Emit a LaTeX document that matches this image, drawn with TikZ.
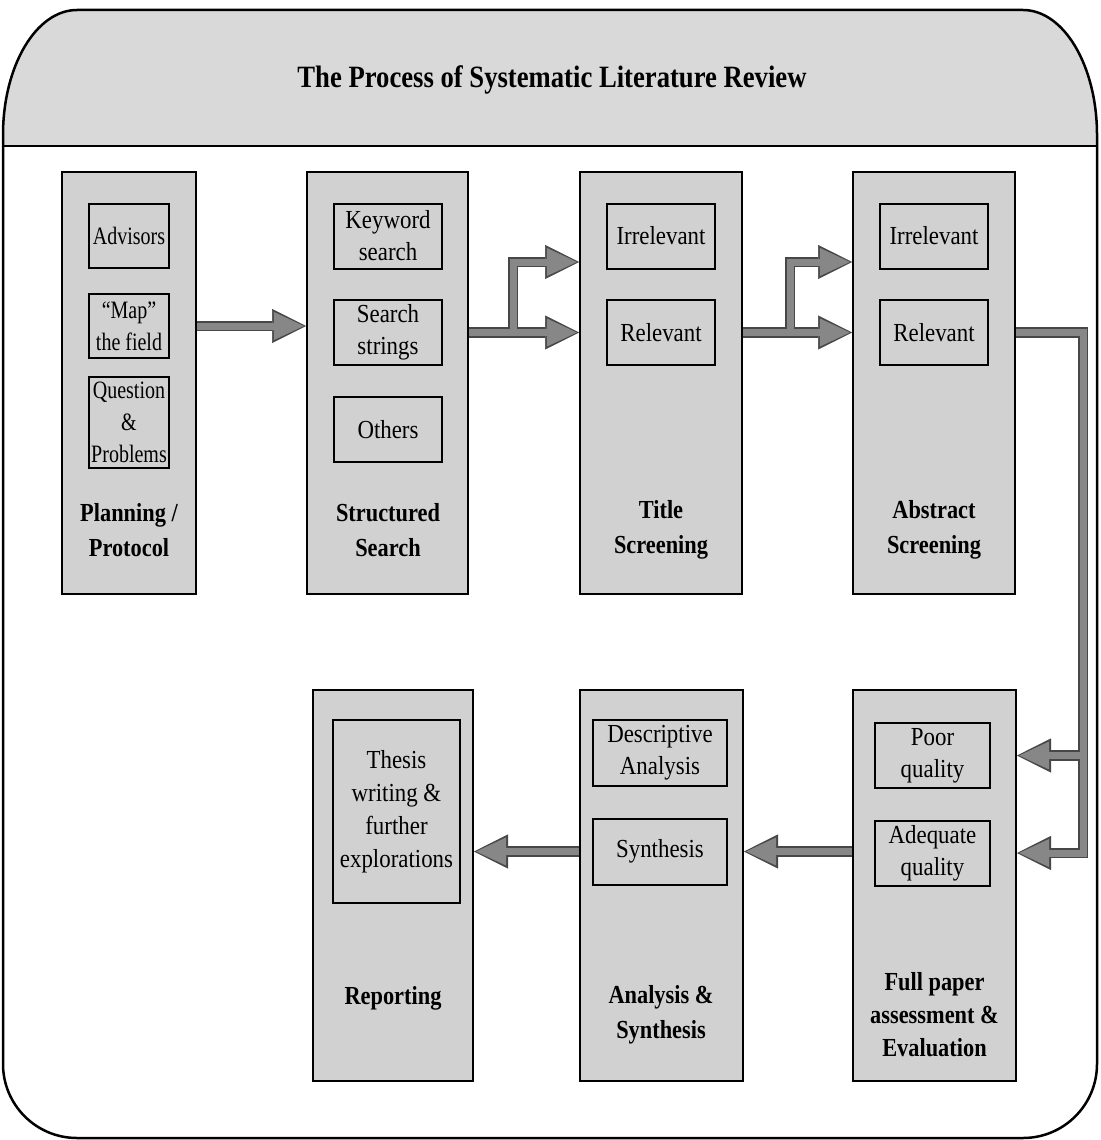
\documentclass[tikz,border=0pt]{standalone}
\usepackage{fontspec}
\setmainfont{Liberation Serif}[FakeStretch=0.88, BoldFeatures={FakeStretch=0.86}]
\newfontfamily\narrowserif{Liberation Serif}[FakeStretch=0.8]
\usetikzlibrary{arrows.meta}

\definecolor{panel}{gray}{0.82}
\definecolor{band}{gray}{0.85}
\definecolor{shaft}{gray}{0.53}
\definecolor{shaftedge}{gray}{0.28}

% outline of the whole sheet: tall rounded top corners, round bottom corners
\newcommand\sheetoutline{(3,135) arc[start angle=180, end angle=270, x radius=74, y radius=125]
  -- (1023,10) arc[start angle=270, end angle=360, x radius=74, y radius=125]
  -- (1097,1064) arc[start angle=0, end angle=90, radius=74]
  -- (77,1138) arc[start angle=90, end angle=180, radius=74] -- cycle}

\tikzset{
  stage/.style={draw=black, line width=2pt, fill=panel, inner sep=0pt,
    minimum width=162pt, minimum height=422pt},
  item/.style={draw=black, line width=2pt, fill=panel, inner sep=0pt,
    minimum width=108pt, minimum height=65pt, align=center,
    font=\fontsize{26}{32}\selectfont},
  narrowitem/.style={item, minimum width=80pt, minimum height=64pt,
    font=\narrowserif\fontsize{25}{32}\selectfont},
  caption/.style={align=center, inner sep=0pt, font=\fontsize{26}{35}\selectfont\bfseries},
  connback/.style={draw=shaftedge, line width=10.5pt,
    -{Triangle[length=34pt, width=34pt, line width=0.5pt]}},
  connfront/.style={draw=shaft, line width=7pt, shorten >=2.2pt,
    -{Triangle[length=30pt, width=28pt, line width=0.5pt]}},
}

\begin{document}
\begin{tikzpicture}[x=1pt, y=-1pt]
  \useasboundingbox (0,0) rectangle (1100,1140);
  \fill[white] (0,0) rectangle (1100,1140);

  % heading band and outer frame
  \begin{scope}
    \clip (0,0) rectangle (1100,146);
    \fill[band] \sheetoutline;
  \end{scope}
  \draw[line width=2.5pt] \sheetoutline;
  \draw[line width=2.5pt] (3,146) -- (1097,146);
  \node[font=\fontsize{31}{36}\selectfont\bfseries] (heading) at (552,80)
    {The Process of Systematic Literature Review};

  % stage columns, upper row
  \node[stage, minimum width=134pt] (plan) at (129,383) {};
  \node[stage, minimum width=161pt] (search) at (387.5,383) {};
  \node[stage] (tscr) at (661,383) {};
  \node[stage] (ascr) at (934,383) {};
  % stage columns, lower row
  \node[stage, minimum width=160pt, minimum height=391pt] (report) at (393,885.5) {};
  \node[stage, minimum width=163pt, minimum height=391pt] (analysis) at (661.5,885.5) {};
  \node[stage, minimum width=163pt, minimum height=391pt] (fullpaper) at (934.5,885.5) {};

  % planning / protocol
  \node[narrowitem] (advisors) at (129,236) {Advisors};
  \node[narrowitem] (mapfield) at (129,326) {“Map”\\the field};
  \node[narrowitem, minimum height=91pt] (question) at (129,422.5) {Question\\\&\\Problems};
  \node[caption] (plancap) at (129,530) {Planning /\\Protocol};

  % structured search
  \node[item] (keyword) at (388,236) {Keyword\\search};
  \node[item] (strings) at (388,332.5) {Search\\strings};
  \node[item] (others) at (388,429.5) {Others};
  \node[caption] (searchcap) at (388,530) {Structured\\Search};

  % title screening
  \node[item] (tirr) at (661,236) {Irrelevant};
  \node[item] (trel) at (661,332.5) {Relevant};
  \node[caption] (tcap) at (661,530) {Title\\Screening};

  % abstract screening
  \node[item] (airr) at (934,236) {Irrelevant};
  \node[item] (arel) at (934,332.5) {Relevant};
  \node[caption] (acap) at (934,530) {Abstract\\Screening};

  % reporting
  \node[item, minimum width=127pt, minimum height=183pt, font=\fontsize{26}{33}\selectfont]
    (thesis) at (396.5,811.5) {Thesis\\writing \&\\further\\explorations};
  \node[caption] (repcap) at (393,998) {Reporting};

  % analysis and synthesis
  \node[item, minimum width=134pt, minimum height=66pt] (descr) at (660,753) {Descriptive\\Analysis};
  \node[item, minimum width=134pt, minimum height=66pt] (synth) at (660,851.5) {Synthesis};
  \node[caption] (anacap) at (661,1014.5) {Analysis \&\\Synthesis};

  % full paper assessment
  \node[item, minimum width=115pt, minimum height=65pt] (poor) at (932.5,755.5) {Poor\\quality};
  \node[item, minimum width=115pt, minimum height=65pt] (adequate) at (932.5,853) {Adequate\\quality};
  \node[caption, font=\fontsize{26}{33}\selectfont\bfseries] (fullcap) at (934.5,1015)
    {Full paper\\assessment \&\\Evaluation};

  % branch and bend points of the flow
  \coordinate (fork1) at (513,332.5);
  \coordinate (fork1up) at (513,262);
  \coordinate (fork2) at (790,332.5);
  \coordinate (fork2up) at (790,262);
  \coordinate (trunktop) at (1083,332.5);
  \coordinate (trunkmid) at (1083,755.5);
  \coordinate (trunkbot) at (1083,853);

  % flow arrows: dark outline pass
  \draw[connback] (plan.east |- mapfield) -- (search.west |- mapfield);
  \draw[connback] (search.east |- strings) -- (tscr.west |- trel);
  \draw[connback] (fork1) |- (tscr.west |- fork1up);
  \draw[connback] (tscr.east |- trel) -- (ascr.west |- arel);
  \draw[connback] (fork2) |- (ascr.west |- fork2up);
  \draw[connback] (ascr.east |- arel) -- (trunktop) -- (trunkbot) -- (fullpaper.east |- adequate);
  \draw[connback] (trunkmid) -- (fullpaper.east |- poor);
  \draw[connback] (fullpaper.west |- synth) -- (analysis.east |- synth);
  \draw[connback] (analysis.west |- synth) -- (report.east |- synth);

  % flow arrows: grey body pass
  \draw[connfront] (plan.east |- mapfield) -- (search.west |- mapfield);
  \draw[connfront] (search.east |- strings) -- (tscr.west |- trel);
  \draw[connfront] (fork1) |- (tscr.west |- fork1up);
  \draw[connfront] (tscr.east |- trel) -- (ascr.west |- arel);
  \draw[connfront] (fork2) |- (ascr.west |- fork2up);
  \draw[connfront] (ascr.east |- arel) -- (trunktop) -- (trunkbot) -- (fullpaper.east |- adequate);
  \draw[connfront] (trunkmid) -- (fullpaper.east |- poor);
  \draw[connfront] (fullpaper.west |- synth) -- (analysis.east |- synth);
  \draw[connfront] (analysis.west |- synth) -- (report.east |- synth);
\end{tikzpicture}
\end{document}
